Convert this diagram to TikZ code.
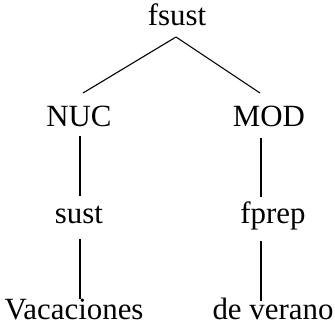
\documentclass[tikz,border=0pt]{standalone}
\usepackage{fontspec}
\setmainfont{Liberation Serif}
\usetikzlibrary{calc}
\begin{document}
\begin{tikzpicture}[x=1bp,y=-1bp,
  lbl/.style={anchor=base,inner sep=0pt,font=\fontsize{31}{33}\selectfont},
  br/.style={line width=1.1bp}]
\useasboundingbox (0,0) rectangle (335,328);
\node[lbl] (fsust) at (177,25) {fsust};
\node[lbl] (nuc) at (79,126) {NUC};
\node[lbl] (mod) at (269,126) {MOD};
\node[lbl] (sust) at (79,223) {sust};
\node[lbl] (fprep) at (273,223) {fprep};
\node[lbl] (vac) at (74,319) {Vacaciones};
\node[lbl] (ver) at (273,319) {de verano};
\draw[br] ($(fsust.base)+(-1,12)$) -- ($(nuc.base)+(4,-33)$);
\draw[br] ($(fsust.base)+(-1,12)$) -- ($(mod.base)+(-9,-33)$);
\draw[br] ($(nuc.base)+(1,10)$) -- ($(sust.base)+(1,-27)$);
\draw[br] ($(sust.base)+(1,16)$) -- ($(vac.base)+(6,-20)$);
\draw[br] ($(mod.base)+(-8,12)$) -- ($(fprep.base)+(-12,-26)$);
\draw[br] ($(fprep.base)+(-12,18)$) -- ($(ver.base)+(-12,-18)$);
\end{tikzpicture}
\end{document}
